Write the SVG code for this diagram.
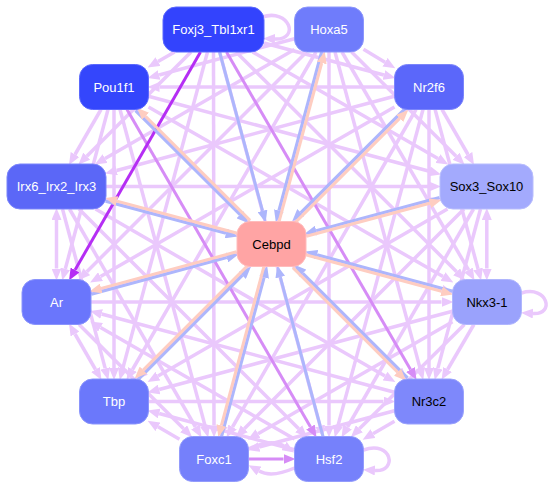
<svg xmlns="http://www.w3.org/2000/svg" width="552" height="489" viewBox="0 0 552 489">
<style>
.e{stroke:#eac8fc;stroke-width:3.5;fill:none;marker-end:url(#mlp)}
.e2{stroke:#eac8fc;stroke-width:3.5;fill:none;marker-end:url(#mlp);marker-start:url(#mlp)}
.mp{stroke:#d68cf6;stroke-width:3;fill:none;marker-end:url(#mmp)}
.dp{stroke:#b52ef4;stroke-width:3;fill:none;marker-end:url(#mdp)}
.b{stroke:#adb6fc;stroke-width:3;fill:none;marker-end:url(#mb)}
.s{stroke:#fecdc1;stroke-width:3;fill:none;marker-end:url(#ms)}
.n rect{stroke-width:1}
.n text{font-family:"Liberation Sans",Arial,sans-serif;font-size:13px;text-anchor:middle}
.w{fill:#ffffff}
.k{fill:#000000}
</style>
<defs>
<marker id="mlp" markerUnits="userSpaceOnUse" markerWidth="12" markerHeight="10" viewBox="0 0 12 10" refX="0" refY="5" orient="auto-start-reverse"><path d="M0,0 L12,5 L0,10 z" fill="#eac8fc"/></marker>
<marker id="mmp" markerUnits="userSpaceOnUse" markerWidth="12" markerHeight="10" viewBox="0 0 12 10" refX="0" refY="5" orient="auto"><path d="M0,0 L12,5 L0,10 z" fill="#d68cf6"/></marker>
<marker id="mdp" markerUnits="userSpaceOnUse" markerWidth="12" markerHeight="10" viewBox="0 0 12 10" refX="0" refY="5" orient="auto"><path d="M0,0 L12,5 L0,10 z" fill="#b52ef4"/></marker>
<marker id="mb" markerUnits="userSpaceOnUse" markerWidth="12" markerHeight="10" viewBox="0 0 12 10" refX="0" refY="5" orient="auto"><path d="M0,0 L12,5 L0,10 z" fill="#adb6fc"/></marker>
<marker id="ms" markerUnits="userSpaceOnUse" markerWidth="12" markerHeight="10" viewBox="0 0 12 10" refX="0" refY="5" orient="auto"><path d="M0,0 L12,5 L0,10 z" fill="#fecdc1"/></marker>
</defs>
<rect width="552" height="489" fill="#ffffff"/>
<g id="connectors">
<path class="e" d="M174.6,52 L158,61.6"/>
<path class="e" d="M191,52 L86.8,156.2"/>
<path class="e" d="M207.5,52 L122.8,368.4"/>
<path class="e" d="M213.5,52 L214,425.5"/>
<path class="e" d="M219.6,52 L320.1,425.9"/>
<path class="e" d="M236.1,52 L456.6,271.7"/>
<path class="e" d="M252.6,52 L437.9,158.5"/>
<path class="e" d="M264,43 L383.9,75"/>
<path class="e" d="M363.5,49.3 L385,62.2"/>
<path class="e" d="M351.6,52 L456.1,156.2"/>
<path class="e" d="M342,52 L468.5,270"/>
<path class="e" d="M335,52 L420.1,368.4"/>
<path class="e" d="M329,52 L329,425.5"/>
<path class="e" d="M323,52 L222.8,425.9"/>
<path class="e" d="M316,52 L132.5,369.5"/>
<path class="e" d="M306.5,52 L86.8,271.7"/>
<path class="e" d="M294.5,49.4 L105.1,158.5"/>
<path class="e" d="M294.5,38.7 L159.1,75"/>
<path class="e" d="M101,109.5 L75,154.5"/>
<path class="e" d="M108,109.5 L65.3,268.9"/>
<path class="e" d="M114,109.5 L114,368"/>
<path class="e" d="M120,109.5 L205.1,425.9"/>
<path class="e" d="M136.5,109.5 L398.7,371.2"/>
<path class="e" d="M148.5,106.9 L443,276.6"/>
<path class="e" d="M148.5,96.2 L429.4,171.3"/>
<path class="e" d="M394.5,87 L159.5,87"/>
<path class="e" d="M442,109.5 L468,154.5"/>
<path class="e" d="M429,109.5 L429,368"/>
<path class="e" d="M435.1,109.5 L478,268.9"/>
<path class="e" d="M423,109.5 L337.9,425.9"/>
<path class="e" d="M416,109.5 L232.5,427"/>
<path class="e" d="M406.5,109.5 L144.3,371.2"/>
<path class="e" d="M394.5,106.9 L100.5,276.6"/>
<path class="e" d="M394.5,96.2 L116.6,170.5"/>
<path class="e2" d="M56.5,220 L56.5,268.5"/>
<path class="e" d="M62.5,209 L105.2,368.4"/>
<path class="e" d="M69.5,209 L195.5,427"/>
<path class="e" d="M79,209 L298.7,428.7"/>
<path class="e" d="M95.5,209 L385,376.1"/>
<path class="e" d="M106,199.8 L441.9,289.8"/>
<path class="e" d="M106,186.5 L429,186.5"/>
<path class="e2" d="M75,334 L95.5,369.5"/>
<path class="e" d="M79.1,324.5 L183.6,428.7"/>
<path class="e" d="M294.5,439.1 L100.5,327.4"/>
<path class="e" d="M394.5,392.3 L101.6,314"/>
<path class="e" d="M91,302 L441.5,302"/>
<path class="e" d="M91,292.7 L429.4,201.9"/>
<path class="e2" d="M486.8,220 L486.8,268.5"/>
<path class="e" d="M480.5,209 L437.8,368.4"/>
<path class="e" d="M473.5,209 L347.5,427"/>
<path class="e" d="M464,209 L244.3,428.7"/>
<path class="e" d="M447.5,209 L158,376.1"/>
<path class="e" d="M473.9,324.5 L447.6,369.5"/>
<path class="e" d="M464.4,324.5 L359.4,428.7"/>
<path class="e" d="M452.5,321.8 L258,433.7"/>
<path class="e" d="M452.5,311.2 L159.1,389.5"/>
<path class="e" d="M179.5,439.2 L158,426.8"/>
<path class="e" d="M294.5,449.8 L159.1,413.5"/>
<path class="e" d="M148.5,401.5 L383.5,401.5"/>
<path class="e" d="M394.5,421.3 L373,433.7"/>
<path class="e" d="M394.5,410.7 L259.1,447"/>
<path class="e" d="M248.5,449 Q271.5,438 284,446"/>
<path class="e" d="M294.5,468 Q271.5,478 259,471"/>
<path class="e" d="M262,17 C290,8 300,40 275,39"/>
<path class="e" d="M521.5,293 C548,285 555,315 533,313.5"/>
<path class="e" d="M363.5,450 C392,440 398,472 375,470.5"/>
<path class="mp" d="M127,109.5 L310.5,427"/>
<path class="mp" d="M226.5,52 L410.5,369.5"/>
<path class="mp" d="M248.5,459 L283.5,459"/>
<path class="dp" d="M200.5,52 L75,270"/>
<path class="b" d="M219.6,52 L262.5,210.9"/>
<path class="b" d="M321.6,51.6 L278.9,210.5"/>
<path class="b" d="M135.5,110.6 L240,214.8"/>
<path class="b" d="M405.3,108.4 L300.8,212.6"/>
<path class="b" d="M105.6,201.2 L226,233.4"/>
<path class="b" d="M439.6,197.5 L316.2,230.6"/>
<path class="b" d="M91.4,294.2 L226.8,257.6"/>
<path class="b" d="M452.9,291.3 L317,254.7"/>
<path class="b" d="M137.6,380.1 L242.3,275.4"/>
<path class="b" d="M407.6,377.9 L302.9,273.2"/>
<path class="b" d="M221.5,436.9 L264.1,277.5"/>
<path class="b" d="M323,436.5 L280.3,277.1"/>
<path class="s" d="M279,221.9 L321.7,63"/>
<path class="s" d="M250,220.4 L145.5,116.2"/>
<path class="s" d="M295.2,222.6 L399.7,118.4"/>
<path class="s" d="M237.4,233.3 L117,201.1"/>
<path class="s" d="M306.4,236.2 L429.8,203.2"/>
<path class="s" d="M236.6,251.8 L101.2,288.4"/>
<path class="s" d="M305.6,254.7 L441.5,291.3"/>
<path class="s" d="M247.9,265.4 L143.2,370.1"/>
<path class="s" d="M292.9,267.6 L397.6,372.3"/>
<path class="s" d="M264,266.1 L221.4,425.5"/>
</g>
<g id="Foxj3_Tbl1xr1" class="n"><rect x="163" y="7" width="101" height="45" rx="13" fill="#3343fd" stroke="#5a68fd"/><text class="w" x="213.5" y="34">Foxj3_Tbl1xr1</text></g>
<g id="Hoxa5" class="n"><rect x="294.5" y="7" width="69" height="45" rx="13" fill="#6f7cfb" stroke="#8c96fc"/><text class="w" x="329" y="34">Hoxa5</text></g>
<g id="Pou1f1" class="n"><rect x="79.5" y="64.5" width="69" height="45" rx="13" fill="#3446fc" stroke="#5a68fd"/><text class="w" x="114" y="91.5">Pou1f1</text></g>
<g id="Nr2f6" class="n"><rect x="394.5" y="64.5" width="69" height="45" rx="13" fill="#5b67fa" stroke="#7b85fb"/><text class="w" x="429" y="91.5">Nr2f6</text></g>
<g id="Irx6_Irx2_Irx3" class="n"><rect x="7" y="164" width="99" height="45" rx="13" fill="#5b67f7" stroke="#7b85fb"/><text class="w" x="56.5" y="191">Irx6_Irx2_Irx3</text></g>
<g id="Sox3_Sox10" class="n"><rect x="440" y="164" width="93" height="45" rx="13" fill="#a3aafd" stroke="#b8bdfd"/><text class="k" x="486.5" y="191">Sox3_Sox10</text></g>
<g id="Cebpd" class="n"><rect x="237" y="221.5" width="69" height="45" rx="13" fill="#ffa4a4" stroke="#ffbcbc"/><text class="k" x="271.5" y="248.5">Cebpd</text></g>
<g id="Ar" class="n"><rect x="22" y="279.5" width="69" height="45" rx="13" fill="#6a76fc" stroke="#8a94fc"/><text class="w" x="56.5" y="306.5">Ar</text></g>
<g id="Nkx3-1" class="n"><rect x="452.5" y="279.5" width="69" height="45" rx="13" fill="#9aa2fc" stroke="#b0b6fd"/><text class="k" x="487" y="306.5">Nkx3-1</text></g>
<g id="Tbp" class="n"><rect x="79.5" y="379" width="69" height="45" rx="13" fill="#6b78fb" stroke="#8a94fc"/><text class="w" x="114" y="406">Tbp</text></g>
<g id="Nr3c2" class="n"><rect x="394.5" y="379" width="69" height="45" rx="13" fill="#7e88fb" stroke="#9aa2fc"/><text class="k" x="429" y="406">Nr3c2</text></g>
<g id="Foxc1" class="n"><rect x="179.5" y="436.5" width="69" height="45" rx="13" fill="#7580fb" stroke="#939bfc"/><text class="w" x="214" y="463.5">Foxc1</text></g>
<g id="Hsf2" class="n"><rect x="294.5" y="436.5" width="69" height="45" rx="13" fill="#7681fb" stroke="#939bfc"/><text class="w" x="329" y="463.5">Hsf2</text></g>
</svg>
